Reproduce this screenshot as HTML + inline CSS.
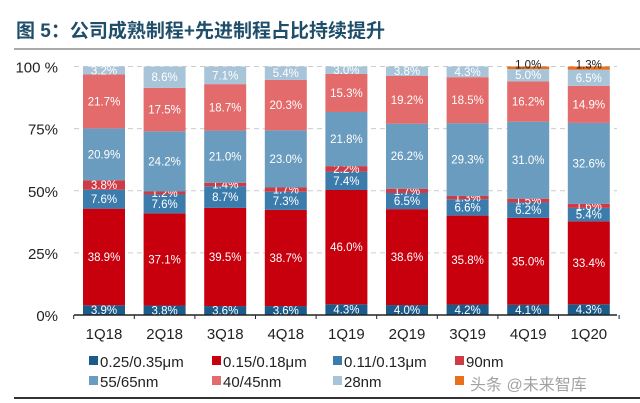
<!DOCTYPE html>
<html><head><meta charset="utf-8"><style>
body{margin:0;background:#fff;}
svg{display:block;font-family:"Liberation Sans","Noto Sans CJK SC",sans-serif;}
</style></head><body>
<svg id="c" width="640" height="403" viewBox="0 0 640 403">
<text x="16" y="37" font-size="19" font-weight="bold" fill="#1f4e6b">图 5：公司成熟制程+先进制程占比持续提升</text>
<line x1="14" y1="49" x2="640" y2="49" stroke="#555" stroke-width="1"/>
<line x1="14" y1="398" x2="640" y2="398" stroke="#333" stroke-width="2"/>
<g id="grid"></g><g id="bars"></g><g id="axes"></g><g id="legend"></g>
<text x="470" y="390" font-size="16" fill="#555" opacity="0.55">头条 @未来智库</text>
</svg>
<script>
const categories=["1Q18","2Q18","3Q18","4Q18","1Q19","2Q19","3Q19","4Q19","1Q20"];
const seriesNames=["0.25/0.35μm","0.15/0.18μm","0.11/0.13μm","90nm","55/65nm","40/45nm","28nm","14nm"];
const s025=[3.9,3.8,3.6,3.6,4.3,4.0,4.2,4.1,4.3];
const s015=[38.9,37.1,39.5,38.7,46.0,38.6,35.8,35.0,33.4];
const s011=[7.6,7.6,8.7,7.3,7.4,6.5,6.6,6.2,5.4];
const s90=[3.8,1.2,1.4,1.7,2.2,1.7,1.3,1.5,1.6];
const s55=[20.9,24.2,21.0,23.0,21.8,26.2,29.3,31.0,32.6];
const s40=[21.7,17.5,18.7,20.3,15.3,19.2,18.5,16.2,14.9];
const s28=[3.2,8.6,7.1,5.4,3.0,3.8,4.3,5.0,6.5];
const s14=[0,0,0,0,0,0,0,1.0,1.3];
const yTicks=[0,25,50,75,100];
const series=[s025,s015,s011,s90,s55,s40,s28,s14];
const colors=["#1b5b8a","#c8000e","#3c7cad","#cf3b45","#6a9cbf","#e36b6b","#a8c4d8","#ea6f1c"];
const NS="http://www.w3.org/2000/svg";
const y0=315,y1=66.5,x0=74,x1=617;
const yS=v=>y0-(v/100)*(y0-y1);
const xS=i=>104+i*60.6;
const bw=42;
function mk(t,a,p){const e=document.createElementNS(NS,t);for(const k in a)e.setAttribute(k,a[k]);p.appendChild(e);return e;}
const grid=document.getElementById('grid'),bars=document.getElementById('bars'),axes=document.getElementById('axes'),leg=document.getElementById('legend');
yTicks.forEach(t=>{
 if(t>0){const g=mk('line',{x1:x0,x2:x1,y1:yS(t),y2:yS(t),stroke:'#ccc','stroke-dasharray':'5,4'},grid);
 
 }
 const l=mk('text',{x:58,y:yS(t)+6,'font-size':15,'text-anchor':'end',fill:'#222'},axes);l.textContent=t+(t==100?' %':'%');
 
 
});
categories.forEach((c,i)=>{
 let cum=0;
 series.forEach((s,k)=>{
  const v=s[i]; if(!v)return;
  const top=yS(cum+v),bot=yS(cum);
  const r=mk('rect',{x:xS(i)-bw/2,y:top,width:bw,height:bot-top,fill:colors[k]},bars);
  
  
  const t=mk('text',{x:xS(i),'font-size':11.5,'text-anchor':'middle',fill:k==7?'#222':'#fff'},bars);
  t.setAttribute('y',k==7?top+2:(top+bot)/2+4);
  t.textContent=v.toFixed(1)+'%';
  
  
  cum+=v;
 });
 const xl=mk('text',{x:xS(i),y:339,'font-size':15,'text-anchor':'middle',fill:'#222'},axes);xl.textContent=c;
 
 
});
const ax=mk('line',{x1:x0,x2:x1,y1:y0,y2:y0,stroke:'#222','stroke-width':1.5},axes);


for(let i=0;i<=9;i++){const tk=mk('line',{x1:xS(i)-30.3,x2:xS(i)-30.3,y1:y0,y2:y0+4,stroke:'#222'},axes);
 
 }
const lx=[89,212,333,455];
seriesNames.forEach((n,k)=>{
 const col=k%4,row=Math.floor(k/4);
 const g=mk('g',{},leg);
 
 
 const yy=row?382:362;
 mk('rect',{x:lx[col],y:yy-6,width:9,height:9,fill:colors[k]},g);
 if(k<7){const t=mk('text',{x:lx[col]+11,y:yy+5,'font-size':15,fill:'#222'},g);t.textContent=n;}
});
</script>
</body></html>
